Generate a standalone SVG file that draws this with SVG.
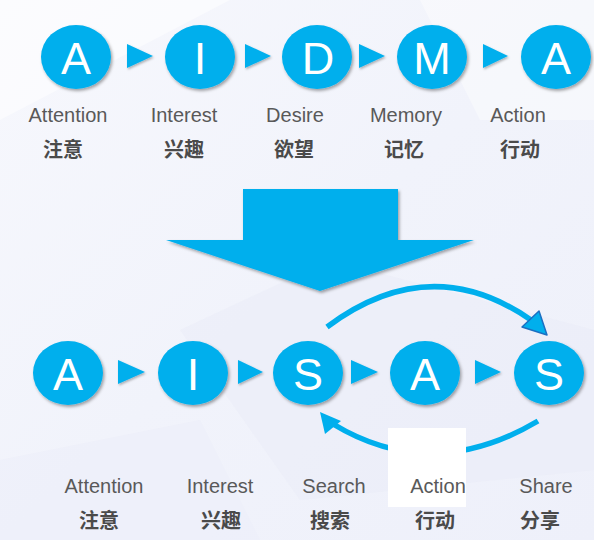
<svg xmlns="http://www.w3.org/2000/svg" width="594" height="540" viewBox="0 0 594 540">
<defs>
<linearGradient id="bg" x1="0" y1="0" x2="1" y2="1">
<stop offset="0" stop-color="#f7f8fd"/>
<stop offset="0.5" stop-color="#f1f3fb"/>
<stop offset="1" stop-color="#eef0fa"/>
</linearGradient>
<filter id="sh" x="-20%" y="-20%" width="150%" height="150%">
<feDropShadow dx="1.5" dy="2" stdDeviation="1.5" flood-color="#000" flood-opacity="0.35"/>
</filter>
<filter id="sh2" x="-20%" y="-20%" width="150%" height="150%">
<feDropShadow dx="1" dy="1.5" stdDeviation="1" flood-color="#000" flood-opacity="0.3"/>
</filter>
</defs>
<style>
.c{fill:#00afed;filter:url(#sh)}
.L{font-family:"Liberation Sans",Arial,sans-serif;font-size:45px;fill:#fff;text-anchor:middle}
.en{font-family:"Liberation Sans",Arial,sans-serif;font-size:20px;fill:#595959;text-anchor:middle}
.zh{font-family:"Noto Sans CJK SC","Liberation Sans",sans-serif;font-size:20px;font-weight:bold;fill:#4a4a4a;text-anchor:middle}
.tri{fill:#00afed;filter:url(#sh2)}
.arc{fill:none;stroke:#00afed;stroke-width:5.5}
</style>
<rect width="594" height="540" fill="url(#bg)"/>
<polygon points="0,0 230,0 0,120" fill="#ffffff" opacity="0.5"/>
<polygon points="180,330 330,260 594,330 594,470 300,500" fill="#e9ebf8" opacity="0.5"/>
<polygon points="0,460 200,420 260,540 0,540" fill="#eceefa" opacity="0.5"/>
<polygon points="420,0 594,0 594,120 480,120" fill="#ffffff" opacity="0.4"/>

<g id="connectors">
<polygon class="tri" points="127,44 153,56 127,68"/>
<polygon class="tri" points="245,44 271,56 245,68"/>
<polygon class="tri" points="359,44 385,56 359,68"/>
<polygon class="tri" points="483,44 508,56 483,68"/>
<polygon points="243,189 398,189 398,240 474,240 320,291 166,240 243,240" fill="#00afed" filter="url(#sh)"/>
<polygon class="tri" points="118,360 145,372 118,384"/>
<polygon class="tri" points="238,360 263,372 238,384"/>
<polygon class="tri" points="351,360 378,372 351,384"/>
<polygon class="tri" points="475,360 501,372 475,384"/>
<path class="arc" d="M327,327 Q430,250 531,320"/>
<polygon points="522,327 539,311 547,335" fill="#00afed" stroke="#1b6fc2" stroke-width="1.5" stroke-linejoin="round"/>
<path class="arc" d="M538,421 Q432,484 333,424"/>
<polygon points="320,412 325,434 341,421" fill="#00afed"/>
</g>

<g id="top-attention">
<ellipse class="c" cx="76" cy="57" rx="35" ry="32"/>
<text class="L" x="76" y="74">A</text>
<text class="en" x="68" y="122">Attention</text>
<text class="zh" x="63" y="157">注意</text>
</g>
<g id="top-interest">
<ellipse class="c" cx="200" cy="57" rx="35" ry="32"/>
<text class="L" x="200" y="74">I</text>
<text class="en" x="184" y="122">Interest</text>
<text class="zh" x="184" y="157">兴趣</text>
</g>
<g id="top-desire">
<ellipse class="c" cx="317" cy="57" rx="35" ry="32"/>
<text class="L" x="318" y="74">D</text>
<text class="en" x="295" y="122">Desire</text>
<text class="zh" x="294" y="157">欲望</text>
</g>
<g id="top-memory">
<ellipse class="c" cx="432" cy="57" rx="35" ry="32"/>
<text class="L" x="432" y="74">M</text>
<text class="en" x="406" y="122">Memory</text>
<text class="zh" x="404" y="157">记忆</text>
</g>
<g id="top-action">
<ellipse class="c" cx="556" cy="57" rx="35" ry="32"/>
<text class="L" x="556" y="74">A</text>
<text class="en" x="518" y="122">Action</text>
<text class="zh" x="520" y="157">行动</text>
</g>

<g id="bot-attention">
<ellipse class="c" cx="68" cy="373" rx="35" ry="32"/>
<text class="L" x="68" y="390">A</text>
<text class="en" x="104" y="493">Attention</text>
<text class="zh" x="99" y="528">注意</text>
</g>
<g id="bot-interest">
<ellipse class="c" cx="193" cy="373" rx="35" ry="32"/>
<text class="L" x="193" y="390">I</text>
<text class="en" x="220" y="493">Interest</text>
<text class="zh" x="221" y="528">兴趣</text>
</g>
<g id="bot-search">
<ellipse class="c" cx="308" cy="373" rx="35" ry="32"/>
<text class="L" x="308" y="390">S</text>
<text class="en" x="334" y="493">Search</text>
<text class="zh" x="330" y="528">搜索</text>
</g>
<g id="bot-action">
<ellipse class="c" cx="425" cy="373" rx="35" ry="32"/>
<text class="L" x="425" y="390">A</text>
<rect x="388" y="428" width="78" height="79" fill="#ffffff"/>
<text class="en" x="438" y="493">Action</text>
<text class="zh" x="435" y="528">行动</text>
</g>
<g id="bot-share">
<ellipse class="c" cx="549" cy="373" rx="35" ry="32"/>
<text class="L" x="549" y="390">S</text>
<text class="en" x="546" y="493">Share</text>
<text class="zh" x="540" y="528">分享</text>
</g>
</svg>
